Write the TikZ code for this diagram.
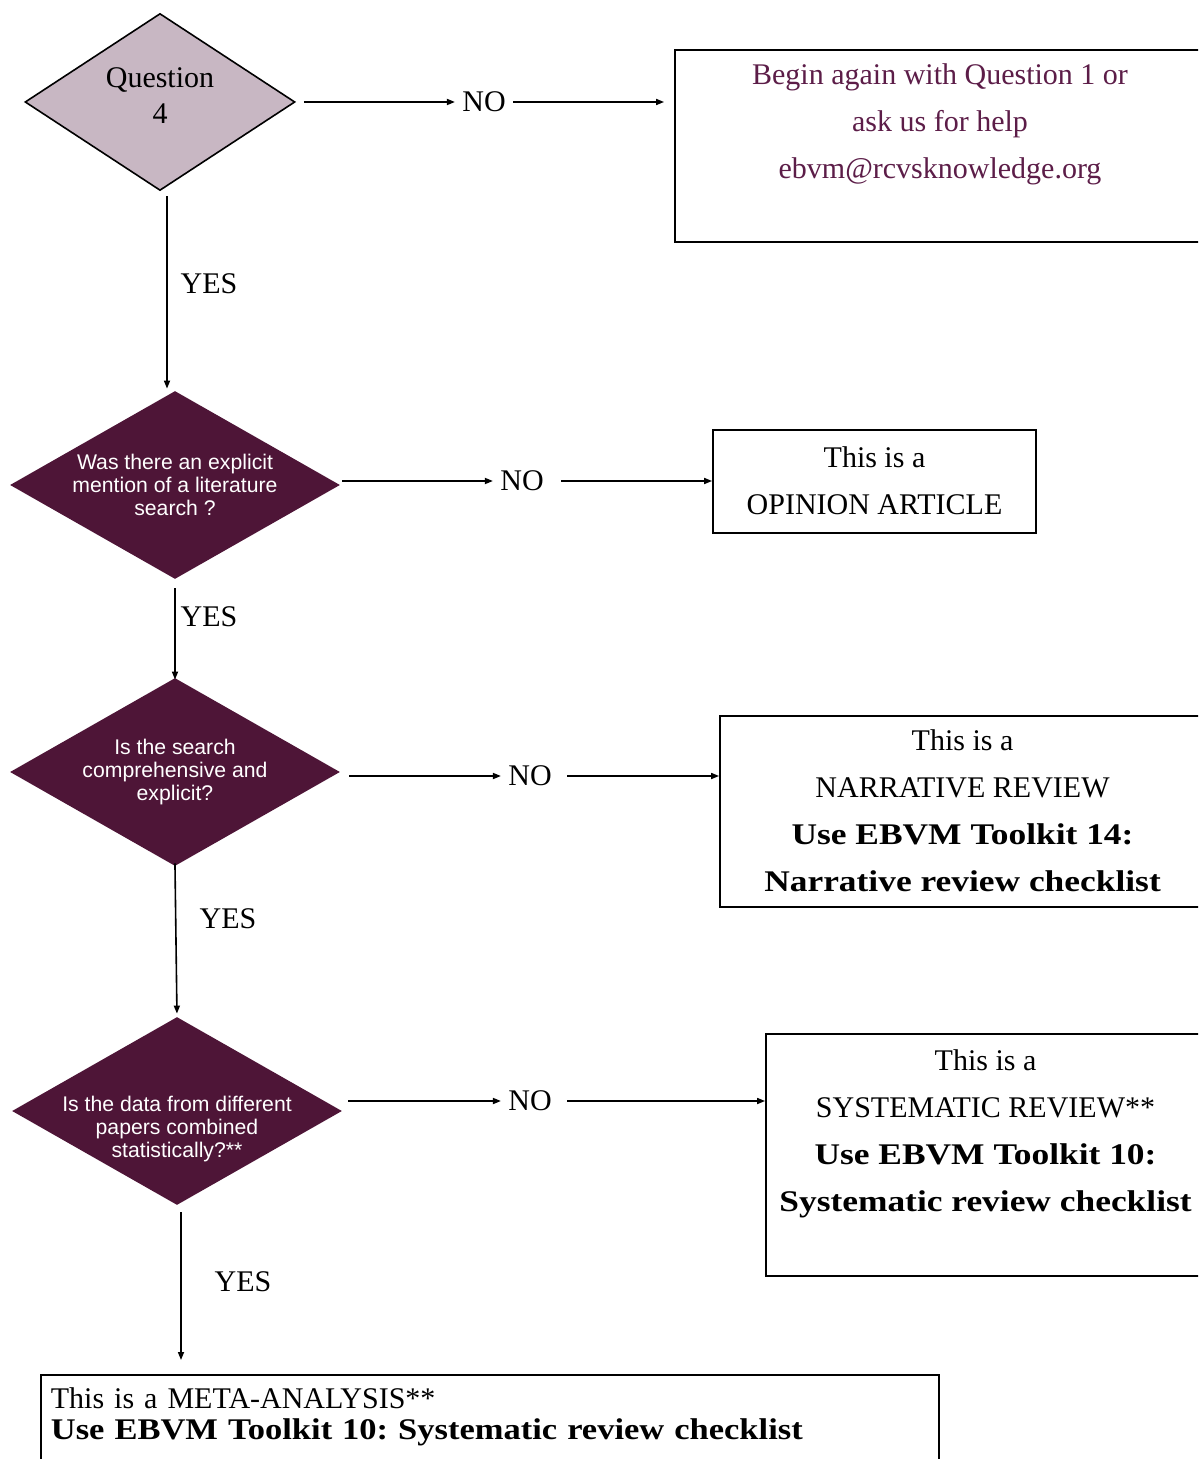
\documentclass[tikz,border=0pt]{standalone}
\usepackage{fontspec}
\setmainfont{Liberation Serif}
\newfontfamily\qsans{Liberation Sans}
\newfontfamily\toolbf[FakeStretch=1.18]{Liberation Serif Bold}
\newfontfamily\metabf[FakeStretch=1.15]{Liberation Serif Bold}
\usetikzlibrary{arrows.meta, shapes.geometric, positioning}
\definecolor{qlight}{HTML}{C8B7C3}
\definecolor{qdark}{HTML}{4E1537}
\definecolor{helptext}{HTML}{5C1D48}
\tikzset{
    question/.style={
        diamond, draw=black, line width=0.8pt, fill=qlight, aspect=1.5,
        inner sep=0pt, minimum width=135pt, minimum height=88.5pt,
        align=center, font=\fontsize{15}{18}\selectfont
    },
    decision/.style={
        diamond, fill=qdark, text=white, aspect=1.75, inner sep=-6pt,
        minimum width=165pt, minimum height=94pt,
        align=center, font=\qsans\fontsize{10.6}{11.6}\selectfont
    },
    outcome/.style={
        rectangle, draw=black, line width=0.9pt, inner sep=0pt,
        align=center, font=\frenchspacing\fontsize{15}{23.5}\selectfont
    },
    answer/.style={
        inner xsep=3.5pt, inner ysep=1pt, font=\fontsize{15}{18}\selectfont
    },
    arrow/.style={
        -{Triangle[length=4pt, width=3pt]}, line width=0.8pt
    }
}

\begin{document}
\begin{tikzpicture}[x=0.5pt, y=-0.5pt]
      \useasboundingbox (0,0) rectangle (1198,1459);
      \clip (0,0) rectangle (1198,1459);

      \node[question] (q4) at (160,102) {\raisebox{2pt}[\height][\depth]{\begin{tabular}{@{}c@{}}Question\\4\end{tabular}}};
      \node[answer] (no1) at (484,102) {NO};
      \node[outcome, text=helptext, minimum width=265pt, minimum height=96pt] (help) at (940,146)
          {\strut Begin again with Question 1 or\\ask us for help\\ebvm@rcvsknowledge.org\\\strut};
      \node[answer] (yes1) at (209,284) {YES};

      \node[decision] (lit) at (175,485) {Was there an explicit\\mention of a literature\\search ?};
      \node[answer] (no2) at (522,481) {NO};
      \node[outcome, minimum width=161.5pt, minimum height=51.5pt] (opinion) at (874.5,481.5)
          {\strut This is a\\OPINION ARTICLE\strut};
      \node[answer] (yes2) at (209,617) {YES};

      \node[decision] (search) at (175,772) {Is the search\\comprehensive and\\explicit?};
      \node[answer] (no3) at (530,776) {NO};
      \node[outcome, minimum width=242.5pt, minimum height=95.5pt] (narr) at (962.5,811.5)
          {\strut This is a\\NARRATIVE REVIEW\\{\toolbf Use EBVM Toolkit 14:}\\{\toolbf Narrative review checklist}\strut};
      \node[answer] (yes3) at (228,919) {YES};

      \node[decision] (stats) at (177,1111)
          {\raisebox{-9.5pt}[\height][\depth]{\begin{tabular}{@{}c@{}}Is the data from different\\papers combined\\statistically?**\end{tabular}}};
      \node[answer] (no4) at (530,1101) {NO};
      \node[outcome, minimum width=219.5pt, minimum height=121pt] (sysrev) at (985.5,1155)
          {\strut This is a\\SYSTEMATIC REVIEW**\\{\toolbf Use EBVM Toolkit 10:}\\{\toolbf Systematic review checklist}\\\strut};
      \node[answer] (yes4) at (243,1282) {YES};

      \node[outcome, anchor=north west, align=left, inner xsep=5pt, inner ysep=6pt, text width=439pt,
          font=\frenchspacing\fontsize{15}{15.5}\selectfont] (meta) at (40,1374)
          {\strut This is a META-ANALYSIS**\\{\metabf Use EBVM Toolkit 10: Systematic review checklist}\\\strut};

      \draw[arrow, shorten <=4pt] (q4.east |- no1.west) -- (no1.west);
      \draw[arrow, shorten >=5pt] (no1.east) -- (no1.east -| help.west);
      \draw[arrow, shorten <=2.5pt, shorten >=1pt] ([xshift=3.5pt]q4.south) -- ([xshift=3.5pt]q4.south |- lit.north);

      \draw[arrow, shorten <=1pt] (lit.east |- no2.west) -- (no2.west);
      \draw[arrow, shorten <=5pt] (no2.east) -- (no2.east -| opinion.west);
      \draw[arrow, shorten <=4.5pt, shorten >=-1pt] (lit.south) -- (search.north);

      \draw[arrow, shorten <=4.5pt] (search.east |- no3.west) -- (no3.west);
      \draw[arrow, shorten <=4pt] (no3.east) -- (no3.east -| narr.west);
      \draw[arrow, shorten <=-1.5pt, shorten >=1.5pt] (search.south) -- (stats.north);

      \draw[arrow, shorten <=3pt] (stats.east |- no4.west) -- (no4.west);
      \draw[arrow, shorten <=4pt] (no4.east) -- (no4.east -| sysrev.west);
      \draw[arrow, shorten <=3.5pt, shorten >=7pt] ([xshift=2pt]stats.south) -- ([xshift=2pt]stats.south |- meta.north);
    \end{tikzpicture}
\end{document}
